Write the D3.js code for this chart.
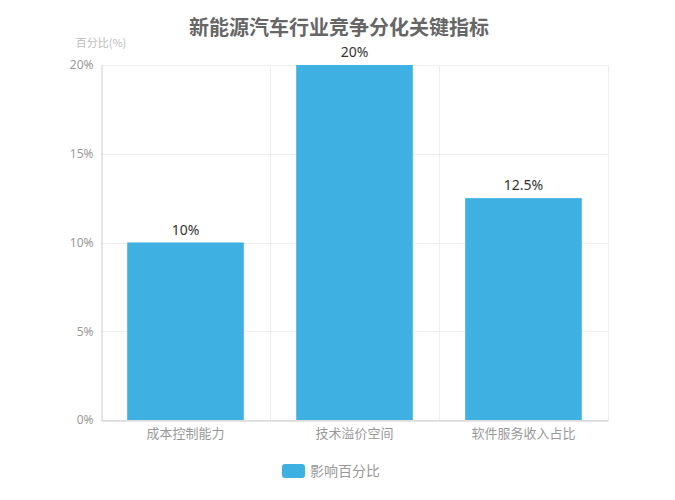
<!DOCTYPE html>
<html>
<head>
<meta charset="utf-8">
<script src="https://cdn.jsdelivr.net/npm/d3@7"></script>
<style>
  body { margin: 0; background: #fff; }
  text { font-family: "Noto Sans CJK SC", "Noto Sans", sans-serif; }
</style>
</head>
<body>
<script>
'use strict';

// chart data
const categories = ["成本控制能力", "技术溢价空间", "软件服务收入占比"];
const values = [10, 20, 12.5];
const valueLabels = ["10%", "20%", "12.5%"];
const yTicks = [0, 5, 10, 15, 20];

(function() {
  const width = 675, height = 500;
  const plotLeft = 101, plotRight = 608, plotTop = 65, plotBottom = 420;

  const svg = d3.select('body').append('svg')
    .attr('width', width)
    .attr('height', height);

  // title
  svg.append('text')
    .attr('x', 339)
    .attr('y', 35)
    .attr('text-anchor', 'middle')
    .style('font-size', '20px')
    .style('font-weight', 'bold')
    .attr('fill', '#666')
    .text("新能源汽车行业竞争分化关键指标");

  // y axis name
  svg.append('text')
    .attr('x', 101)
    .attr('y', 47)
    .attr('text-anchor', 'middle')
    .style('font-size', '11px')
    .attr('fill', '#bbb')
    .text("百分比(%)");

  let x = d3.scaleBand().domain(categories).range([plotLeft, plotRight]).padding(0);
  let y = d3.scaleLinear().domain([0, 20]).range([plotBottom, plotTop]);

  // horizontal grid
  svg.selectAll('.hgrid').data(yTicks).enter().append('line')
    .attr('x1', plotLeft).attr('x2', plotRight)
    .attr('y1', d => Math.round(y(d)) + 0.5).attr('y2', d => Math.round(y(d)) + 0.5)
    .attr('stroke', '#eee');

  // vertical grid at category boundaries
  let bounds = categories.slice(1).map(c => x(c)).concat([plotRight]);
  svg.selectAll('.vgrid').data(bounds).enter().append('line')
    .attr('x1', d => Math.round(d) + 0.5).attr('x2', d => Math.round(d) + 0.5)
    .attr('y1', plotTop).attr('y2', plotBottom)
    .attr('stroke', '#eee');

  // bars
  let barW = x.bandwidth() * 0.69;
  svg.selectAll('.bar').data(values).enter().append('rect')
    .attr('x', (d, i) => x(categories[i]) + (x.bandwidth() - barW) / 2)
    .attr('y', d => y(d))
    .attr('width', barW)
    .attr('height', d => plotBottom - y(d))
    .attr('fill', '#3EB1E2');

  // value labels
  svg.selectAll('.vlabel').data(values).enter().append('text')
    .attr('x', (d, i) => x(categories[i]) + x.bandwidth() / 2)
    .attr('y', d => y(d) - 8)
    .attr('text-anchor', 'middle')
    .style('font-size', '14px')
    .style('font-family', '"Noto Sans", sans-serif')
    .attr('fill', '#333')
    .text((d, i) => valueLabels[i]);

  // y axis
  let yAxis = d3.axisLeft(y).tickValues(yTicks).tickFormat(d => d + '%').tickSize(0).tickPadding(8);
  let gy = svg.append('g').attr('transform', 'translate(' + (plotLeft + 0.5) + ',0)').call(yAxis);
  gy.select('.domain').attr('stroke', '#ccc');
  gy.selectAll('text').attr('fill', '#999').style('font-size', '12px')
    .style('font-family', '"Noto Sans", sans-serif');

  // x axis
  let xAxis = d3.axisBottom(x).tickSize(0).tickPadding(8);
  let gx = svg.append('g').attr('transform', 'translate(0,' + (plotBottom + 0.5) + ')').call(xAxis);
  gx.select('.domain').attr('stroke', '#ccc');
  gx.selectAll('text').attr('fill', '#999').style('font-size', '13px')
    .style('font-family', '"Noto Sans CJK SC", sans-serif');

  // legend
  svg.append('rect')
    .attr('x', 282).attr('y', 464)
    .attr('width', 23).attr('height', 14)
    .attr('rx', 3)
    .attr('fill', '#3EB1E2');
  svg.append('text')
    .attr('x', 310).attr('y', 476)
    .style('font-size', '14px')
    .attr('fill', '#999')
    .text("影响百分比");
})();
</script>
</body>
</html>
